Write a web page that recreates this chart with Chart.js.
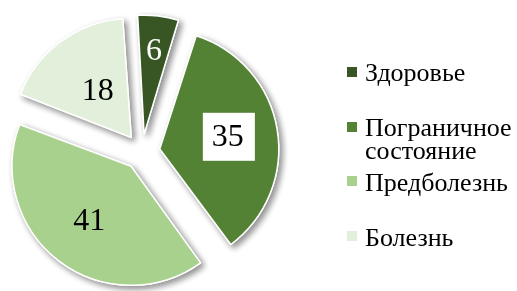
<!DOCTYPE html>
<html><head><meta charset="utf-8">
<script src="https://cdn.jsdelivr.net/npm/chart.js@4/dist/chart.umd.min.js"></script>
<style>
html,body{margin:0;padding:0;background:#fff;}
#wrap{position:relative;width:517px;height:291px;overflow:hidden;background:#fff;}
#c{position:absolute;left:0;top:0;}
#legend{position:absolute;left:347px;top:61.3px;width:170px;font-family:"Liberation Serif","Times New Roman",serif;font-size:26px;line-height:23.3px;color:#000;}
.item{position:relative;height:54.8px;padding-left:18px;box-sizing:border-box;}
.sw{position:absolute;left:0;top:5.5px;width:10px;height:10px;}
</style></head><body>
<div id="wrap"><canvas id="c" width="517" height="291"></canvas><div id="legend"></div></div>
<script>
const categories = ['Здоровье', 'Пограничное состояние', 'Предболезнь', 'Болезнь'];
const values = [6, 35, 41, 18];
const colors = ['#375623', '#548235', '#a9d18e', '#e2efda'];

const shadowPlugin = {
  id: 'sliceShadow',
  beforeDatasetsDraw(chart, args, opts) {
    const meta = chart.getDatasetMeta(0);
    const base = meta.controller.outerRadius;
    const ctx = chart.ctx;
    meta.data.forEach(arc => {
      const o = (arc.options.offset || 0) / 4;
      const fix = 1 - Math.sin(Math.min(Math.PI, arc.circumference));
      arc.outerRadius = base - o * fix;
    });
    ctx.save();
    ctx.shadowColor = opts.color;
    ctx.shadowBlur = opts.blur;
    ctx.shadowOffsetX = opts.dx;
    ctx.shadowOffsetY = opts.dy;
    meta.data.forEach(arc => arc.draw(ctx));
    ctx.restore();
  }
};

const labelPlugin = {
  id: 'sliceLabels',
  afterDatasetsDraw(chart, args, opts) {
    const meta = chart.getDatasetMeta(0);
    const ctx = chart.ctx;
    const R = meta.controller.outerRadius;
    ctx.save();
    ctx.font = opts.font;
    ctx.textAlign = 'center';
    ctx.textBaseline = 'middle';
    meta.data.forEach((arc, i) => {
      const mid = (arc.startAngle + arc.endAngle) / 2;
      const d = (arc.options.offset || 0) / 4 + opts.radius[i] * R;
      const x = arc.x + Math.cos(mid) * d;
      const y = arc.y + Math.sin(mid) * d;
      const txt = String(chart.data.datasets[0].data[i]);
      if (opts.boxed[i]) {
        const w = ctx.measureText(txt).width + 2 * opts.padX;
        ctx.fillStyle = '#ffffff';
        ctx.fillRect(x - w / 2 + 1, y - opts.boxH / 2 - 1, w, opts.boxH);
      }
      ctx.fillStyle = opts.colors[i];
      ctx.fillText(txt, x, y);
    });
    ctx.restore();
  }
};

const chart = new Chart(document.getElementById('c'), {
  type: 'pie',
  data: {
    labels: categories,
    datasets: [{
      data: values,
      backgroundColor: colors,
      borderColor: '#ffffff',
      borderWidth: 1.5,
      offset: 72,
      hoverOffset: 0
    }]
  },
  options: {
    responsive: false,
    animation: false,
    events: [],
    rotation: -4,
    radius: 119,
    layout: { padding: { left: 0, right: 233, top: 13, bottom: 0 } },
    plugins: {
      legend: { display: false },
      tooltip: { enabled: false },
      sliceShadow: { color: 'rgba(0,0,0,0.45)', blur: 6, dx: 3, dy: 3 },
      sliceLabels: {
        font: '32px "Liberation Serif", "Times New Roman", serif',
        radius: [0.7, 0.58, 0.58, 0.475],
        colors: ['#ffffff', '#000000', '#000000', '#000000'],
        boxed: [false, true, false, false],
        padX: 10,
        boxH: 48
      }
    }
  },
  plugins: [shadowPlugin, labelPlugin]
});

const legend = document.getElementById('legend');
categories.forEach((name, i) => {
  const item = document.createElement('div');
  item.className = 'item';
  const sw = document.createElement('span');
  sw.className = 'sw';
  sw.style.background = colors[i];
  item.appendChild(sw);
  item.appendChild(document.createTextNode(name));
  legend.appendChild(item);
});
</script></body></html>
